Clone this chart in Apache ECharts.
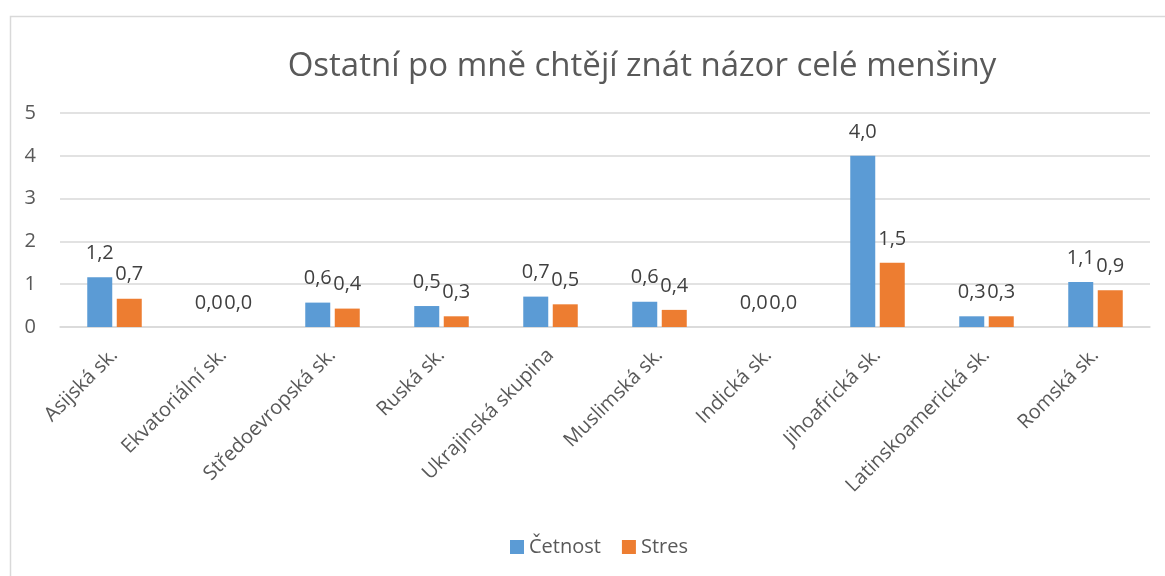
<!DOCTYPE html>
<html>
<head>
	<meta charset="UTF-8">
	<title>Ostatní po mně chtějí znát názor celé menšiny</title>
	<style type="text/css">
		html, body {
			margin: 0;
			padding: 0;
			background: #fff;
		}
		#chart {
			width: 1165px;
			height: 576px;
		}
	</style>
</head>
<body>
	<div id="chart"></div>
	<script type="text/javascript" src="https://cdn.jsdelivr.net/npm/echarts@6/dist/echarts.min.js"></script>
	<script>
		// kategorie
		var categories = ['Asijská sk.', 'Ekvatoriální sk.', 'Středoevropská sk.', 'Ruská sk.', 'Ukrajinská skupina',
			'Muslimská sk.', 'Indická sk.', 'Jihoafrická sk.', 'Latinskoamerická sk.', 'Romská sk.'];
		// hodnoty
		var cetnost = [1.16, 0, 0.57, 0.49, 0.71, 0.59, 0, 4.0, 0.25, 1.05];
		var stres = [0.66, 0, 0.43, 0.25, 0.53, 0.40, 0, 1.5, 0.25, 0.86];
		var yTicks = [0, 1, 2, 3, 4, 5];

		var fontName = '"Open Sans", "Liberation Sans", sans-serif';

		function fmt(p) {
			return p.value.toFixed(1).replace('.', ',');
		}

		var echart = echarts.init(document.getElementById('chart'));
		var option = {
			animation: false,
			textStyle: { fontFamily: fontName },
			graphic: [{
				type: 'rect',
				left: 8,
				top: 14,
				shape: { width: 1200, height: 600 },
				style: { fill: 'none', stroke: '#d9d9d9', lineWidth: 1.5 },
				silent: true
			}],
			title: {
				text: 'Ostatní po mně chtějí znát názor celé menšiny',
				left: 637,
				textAlign: 'center',
				top: 45,
				textStyle: { fontSize: 33, fontWeight: 'normal', color: '#595959', fontFamily: fontName }
			},
			legend: {
				data: ['Četnost', 'Stres'],
				left: 505,
				top: 532,
				itemWidth: 14,
				itemHeight: 14,
				itemGap: 21,
				icon: 'rect',
				textStyle: { fontSize: 20, color: '#595959', fontFamily: fontName }
			},
			grid: {
				left: 60,
				right: 15,
				top: 113,
				height: 214,
				containLabel: false
			},
			xAxis: {
				type: 'category',
				data: categories,
				axisLine: { show: true, lineStyle: { color: '#d9d9d9', width: 1.5 } },
				axisTick: { show: false },
				axisLabel: {
					rotate: 45,
					interval: 0,
					margin: 25,
					fontSize: 20,
					color: '#595959',
					fontFamily: fontName
				}
			},
			yAxis: {
				type: 'value',
				min: yTicks[0],
				max: yTicks[yTicks.length - 1],
				interval: 1,
				axisLine: { show: false },
				axisTick: { show: false },
				splitLine: { lineStyle: { color: '#d9d9d9', width: 1.5 } },
				axisLabel: {
					fontSize: 20,
					color: '#595959',
					margin: 24,
					fontFamily: fontName
				}
			},
			series: [
				{
					name: 'Četnost',
					type: 'bar',
					data: cetnost,
					barWidth: 25,
					barGap: '18%',
					itemStyle: { color: '#5B9BD5' },
					label: {
						show: true,
						position: 'top',
						distance: 14,
						formatter: fmt,
						fontSize: 20,
						color: '#404040',
						fontFamily: fontName
					}
				},
				{
					name: 'Stres',
					type: 'bar',
					data: stres,
					barWidth: 25,
					itemStyle: { color: '#ED7D31' },
					label: {
						show: true,
						position: 'top',
						distance: 14,
						formatter: fmt,
						fontSize: 20,
						color: '#404040',
						fontFamily: fontName
					}
				}
			]
		};
		echart.setOption(option);
	</script>
</body>
</html>
